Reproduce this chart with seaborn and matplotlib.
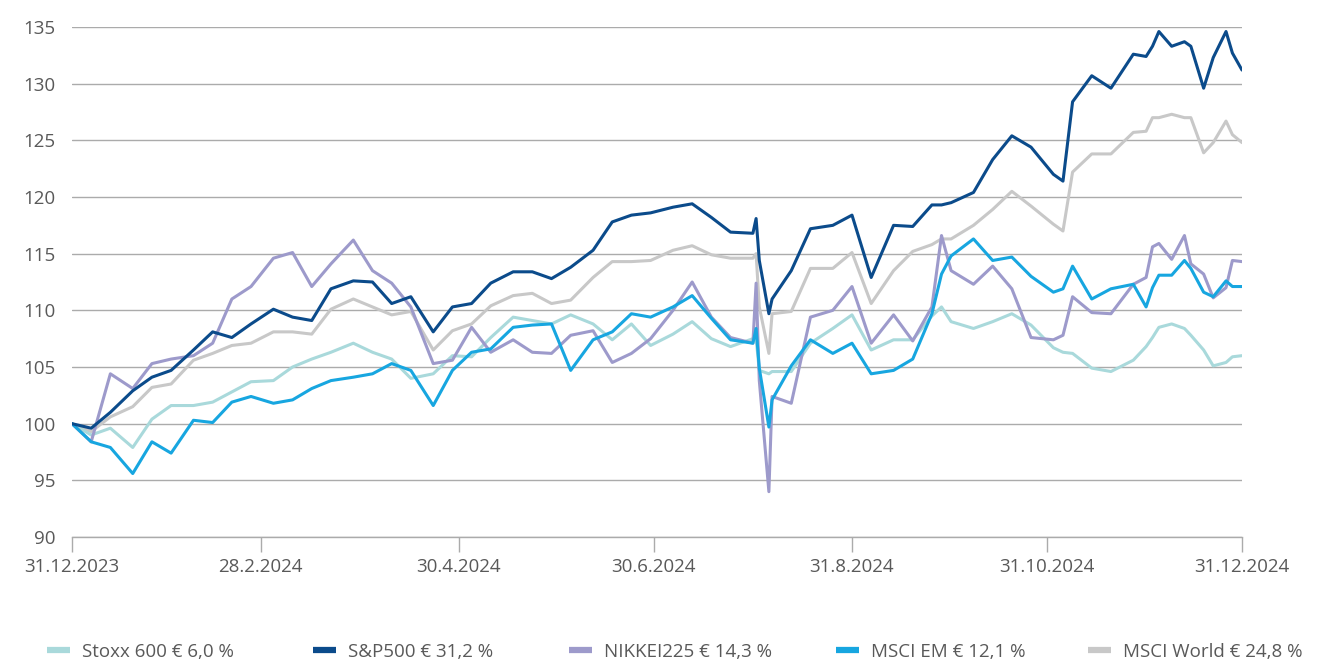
import matplotlib
matplotlib.use("Agg")
import matplotlib.pyplot as plt
import pandas as pd
import seaborn as sns
from matplotlib.lines import Line2D

# ---------------- data ----------------
dates = [
    "2023-12-31", "2024-01-06", "2024-01-12", "2024-01-19", "2024-01-25", "2024-01-31",
    "2024-02-07", "2024-02-13", "2024-02-19", "2024-02-25", "2024-03-03", "2024-03-09",
    "2024-03-15", "2024-03-21", "2024-03-28", "2024-04-03", "2024-04-09", "2024-04-15",
    "2024-04-22", "2024-04-28", "2024-05-04", "2024-05-10", "2024-05-17", "2024-05-23",
    "2024-05-29", "2024-06-04", "2024-06-11", "2024-06-17", "2024-06-23", "2024-06-29",
    "2024-07-06", "2024-07-12", "2024-07-18", "2024-07-24", "2024-07-31", "2024-08-01",
    "2024-08-02", "2024-08-05", "2024-08-06", "2024-08-12", "2024-08-18", "2024-08-25",
    "2024-08-31", "2024-09-06", "2024-09-13", "2024-09-19", "2024-09-25", "2024-09-28",
    "2024-10-01", "2024-10-08", "2024-10-14", "2024-10-20", "2024-10-26", "2024-11-02",
    "2024-11-05", "2024-11-08", "2024-11-14", "2024-11-20", "2024-11-27", "2024-12-01",
    "2024-12-03", "2024-12-05", "2024-12-09", "2024-12-13", "2024-12-15", "2024-12-19",
    "2024-12-22", "2024-12-26", "2024-12-28", "2024-12-31",
]

stoxx600 = [
    100.0, 99.0, 99.6, 97.9, 100.4, 101.6, 101.6, 101.9, 102.8, 103.7, 103.8, 105.0,
    105.7, 106.3, 107.1, 106.3, 105.7, 104.0, 104.4, 106.0, 105.9, 107.6, 109.4, 109.1,
    108.8, 109.6, 108.8, 107.4, 108.8, 106.9, 107.9, 109.0, 107.5, 106.8, 107.5, 107.5,
    104.7, 104.4, 104.6, 104.6, 107.1, 108.4, 109.6, 106.5, 107.4, 107.4, 109.5, 110.3,
    109.0, 108.4, 109.0, 109.7, 108.7, 106.7, 106.3, 106.2, 104.9, 104.6, 105.6, 106.8,
    107.6, 108.5, 108.8, 108.4, 107.8, 106.5, 105.1, 105.4, 105.9, 106.0,
]

sp500 = [
    100.0, 99.6, 101.0, 102.9, 104.1, 104.7, 106.5, 108.1, 107.6, 108.8, 110.1, 109.4,
    109.1, 111.9, 112.6, 112.5, 110.6, 111.2, 108.1, 110.3, 110.6, 112.4, 113.4, 113.4,
    112.8, 113.8, 115.3, 117.8, 118.4, 118.6, 119.1, 119.4, 118.2, 116.9, 116.8, 118.1,
    114.4, 109.7, 111.0, 113.5, 117.2, 117.5, 118.4, 112.9, 117.5, 117.4, 119.3, 119.3,
    119.5, 120.4, 123.3, 125.4, 124.4, 122.0, 121.4, 128.4, 130.7, 129.6, 132.6, 132.4,
    133.3, 134.6, 133.3, 133.7, 133.3, 129.6, 132.3, 134.6, 132.7, 131.2,
]

nikkei225 = [
    100.0, 98.4, 104.4, 103.1, 105.3, 105.7, 106.0, 107.1, 111.0, 112.1, 114.6, 115.1,
    112.1, 114.1, 116.2, 113.5, 112.4, 110.3, 105.3, 105.6, 108.5, 106.3, 107.4, 106.3,
    106.2, 107.8, 108.2, 105.4, 106.2, 107.5, 110.0, 112.5, 109.4, 107.6, 107.1, 112.4,
    103.8, 94.0, 102.4, 101.8, 109.4, 110.0, 112.1, 107.1, 109.6, 107.3, 110.3, 116.6,
    113.5, 112.3, 113.9, 111.9, 107.6, 107.4, 107.8, 111.2, 109.8, 109.7, 112.3, 112.9,
    115.6, 115.9, 114.5, 116.6, 114.1, 113.2, 111.1, 112.0, 114.4, 114.3,
]

msci_em = [
    100.0, 98.4, 97.9, 95.6, 98.4, 97.4, 100.3, 100.1, 101.9, 102.4, 101.8, 102.1,
    103.1, 103.8, 104.1, 104.4, 105.3, 104.7, 101.6, 104.7, 106.3, 106.6, 108.5, 108.7,
    108.8, 104.7, 107.4, 108.1, 109.7, 109.4, 110.3, 111.3, 109.3, 107.4, 107.1, 108.4,
    104.9, 99.7, 102.1, 105.1, 107.4, 106.2, 107.1, 104.4, 104.7, 105.7, 109.7, 113.2,
    114.8, 116.3, 114.4, 114.7, 113.0, 111.6, 111.9, 113.9, 111.0, 111.9, 112.3, 110.3,
    112.0, 113.1, 113.1, 114.4, 113.7, 111.6, 111.2, 112.6, 112.1, 112.1,
]

msci_world = [
    100.0, 99.3, 100.6, 101.5, 103.2, 103.5, 105.6, 106.2, 106.9, 107.1, 108.1, 108.1,
    107.9, 110.1, 111.0, 110.3, 109.6, 109.9, 106.5, 108.2, 108.8, 110.4, 111.3, 111.5,
    110.6, 110.9, 112.9, 114.3, 114.3, 114.4, 115.3, 115.7, 114.9, 114.6, 114.6, 115.0,
    110.3, 106.2, 109.7, 109.9, 113.7, 113.7, 115.1, 110.6, 113.5, 115.2, 115.8, 116.3,
    116.3, 117.5, 118.9, 120.5, 119.2, 117.6, 117.0, 122.2, 123.8, 123.8, 125.7, 125.8,
    127.0, 127.0, 127.3, 127.0, 127.0, 123.9, 124.8, 126.7, 125.5, 124.8,
]

series_names = [
    "Stoxx 600 € 6,0 %",
    "S&P500 € 31,2 %",
    "NIKKEI225 € 14,3 %",
    "MSCI EM € 12,1 %",
    "MSCI World € 24,8 %",
]
series_colors = ["#a9d9db", "#0b4b8b", "#9d9acb", "#17a6e0", "#c8c8c8"]

tick_dates = ["2023-12-31", "2024-02-28", "2024-04-30", "2024-06-30",
              "2024-08-31", "2024-10-31", "2024-12-31"]
tick_labels = ["31.12.2023", "28.2.2024", "30.4.2024", "30.6.2024",
               "31.8.2024", "31.10.2024", "31.12.2024"]
y_ticks = [90, 95, 100, 105, 110, 115, 120, 125, 130, 135]

# ---------------- table ----------------
values_by_series = [stoxx600, sp500, nikkei225, msci_em, msci_world]
frames = []
for name, vals in zip(series_names, values_by_series):
    frames.append(pd.DataFrame({"date": pd.to_datetime(dates), "value": vals, "series": name}))
df = pd.concat(frames, ignore_index=True)

# ---------------- style ----------------
sns.set_theme(style="white")
plt.rcParams["font.family"] = ["Open Sans", "DejaVu Sans"]
text_color = "#595959"
grid_color = "#ababab"
fs = 13.5

W, H = 1320, 661
fig = plt.figure(figsize=(W / 100, H / 100), dpi=100)
ax = fig.add_axes([72 / W, 1 - 537 / H, 1170 / W, 510 / H])

palette = dict(zip(series_names, series_colors))
draw_order = [series_names[4], series_names[0], series_names[2], series_names[3], series_names[1]]
sns.lineplot(data=df, x="date", y="value", hue="series", hue_order=draw_order,
             palette=palette, linewidth=2.2, estimator=None, legend=False, ax=ax)

ax.set_xlim(pd.Timestamp(dates[0]), pd.Timestamp(dates[-1]))
ax.set_ylim(y_ticks[0], y_ticks[-1])
ax.set_yticks(y_ticks)
ax.set_yticklabels([str(v) for v in y_ticks])
ax.set_xticks(pd.to_datetime(tick_dates))
ax.set_xticklabels(tick_labels)
ax.set_xlabel("")
ax.set_ylabel("")

ax.yaxis.grid(True, color=grid_color, linewidth=1.0)
ax.xaxis.grid(False)
ax.set_axisbelow(True)
for side in ["top", "right", "left"]:
    ax.spines[side].set_visible(False)
ax.spines["bottom"].set_color(grid_color)
ax.spines["bottom"].set_linewidth(1.0)

ax.tick_params(axis="x", bottom=True, length=11, width=1.0, color=grid_color,
               labelsize=fs, labelcolor=text_color, pad=4)
ax.tick_params(axis="y", left=False, length=0, labelsize=fs, labelcolor=text_color, pad=12)

# ---------------- legend: one entry per slot ----------------
legend_x = [47, 313, 569, 836, 1088]
for name, color, lx in zip(series_names, series_colors, legend_x):
    handle = Line2D([], [], color=color, linewidth=4.5, solid_capstyle="butt")
    fig.legend(handles=[handle], labels=[name], loc="center left",
               bbox_to_anchor=(lx / W, 1 - 652 / H), frameon=False,
               handlelength=1.25, handletextpad=0.6, borderpad=0, borderaxespad=0,
               fontsize=fs, labelcolor=text_color)

fig.savefig("out.png", dpi=100)
